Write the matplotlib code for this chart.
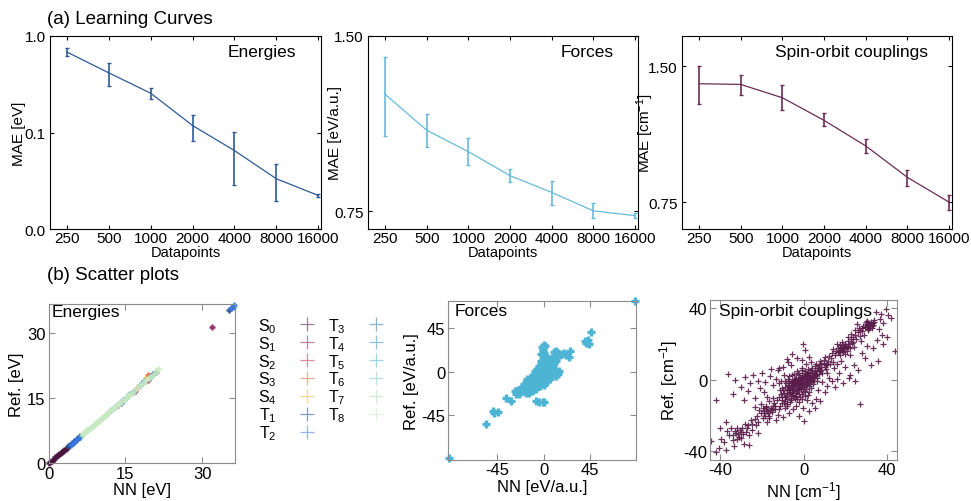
import numpy as np
import matplotlib.pyplot as plt
from matplotlib.lines import Line2D
from matplotlib.ticker import FormatStrFormatter, NullLocator

plt.rcParams['font.family'] = ['Liberation Sans', 'DejaVu Sans']
plt.rcParams['axes.unicode_minus'] = False
plt.rcParams['mathtext.fontset'] = 'custom'
plt.rcParams['mathtext.rm'] = 'Liberation Sans'
plt.rcParams['mathtext.it'] = 'Liberation Sans:italic'

# ---------------- learning curves ----------------
datapoints = [250, 500, 1000, 2000, 4000, 8000, 16000]
dp_labels = ['250', '500', '1000', '2000', '4000', '8000', '16000']

mae_energy = [0.68, 0.414, 0.255, 0.118, 0.065, 0.0332, 0.0223]
mae_energy_lo = [0.62, 0.306, 0.223, 0.081, 0.0283, 0.0195, 0.0217]
mae_energy_hi = [0.75, 0.52, 0.288, 0.153, 0.102, 0.0467, 0.0229]

mae_force = [1.191, 1.033, 0.949, 0.863, 0.808, 0.751, 0.737]
mae_force_lo = [1.01, 0.966, 0.901, 0.841, 0.769, 0.729, 0.729]
mae_force_hi = [1.383, 1.103, 1.000, 0.886, 0.846, 0.774, 0.744]

mae_soc = [1.372, 1.367, 1.277, 1.138, 0.999, 0.851, 0.750]
mae_soc_lo = [1.239, 1.292, 1.198, 1.104, 0.962, 0.816, 0.722]
mae_soc_hi = [1.50, 1.438, 1.361, 1.179, 1.035, 0.885, 0.776]

# ---------------- energies scatter (NN, Ref) per state ----------------
state_labels = ['S_0', 'S_1', 'S_2', 'S_3', 'S_4', 'T_1', 'T_2',
                'T_3', 'T_4', 'T_5', 'T_6', 'T_7', 'T_8']
state_colors = ['#4a1440', '#8e1f5a', '#d0284f', '#f2603c', '#f0b830', '#1f4e8c', '#3c78e8',
                '#2a73b0', '#3b8fcc', '#4bb3d3', '#7fcdbb', '#a8ddb5', '#ccebc5']

s0_pts = [(0.1, 0.1), (0.35, 0.35), (0.6, 0.6), (0.85, 0.85), (1.1, 1.1), (1.35, 1.35), (1.6, 1.6),
          (1.85, 1.85), (2.1, 2.1), (2.35, 2.35), (2.6, 2.6), (2.85, 2.85), (3.1, 3.1), (3.35, 3.35),
          (3.6, 3.6)]
s1_pts = [(16.8, 16.6), (19.5, 19.3), (32.0, 31.5)]
s2_pts = [(13.6, 13.4), (18.9, 19.0)]
s3_pts = [(19.5, 20.3), (17.2, 17.5)]
s4_pts = [(19.0, 19.8)]
t1_pts = [(3.8, 3.9), (4.1, 4.2), (4.4, 4.5), (4.7, 4.8), (5.0, 5.1), (5.3, 5.4), (5.6, 5.7),
          (5.9, 6.0), (6.2, 6.2), (20.4, 20.7), (21.0, 21.2), (35.3, 35.5), (36.0, 36.2)]
t2_pts = [(4.3, 4.3), (4.9, 5.0), (5.5, 5.6), (6.1, 6.1), (35.7, 35.8), (36.3, 36.5)]
t3_pts = [(14.2, 14.0), (16.5, 16.5), (18.2, 18.6)]
t4_pts = [(14.5, 14.6), (17.8, 18.2), (20.0, 20.2)]
t5_pts = [(13.0, 13.1), (15.2, 15.0), (18.6, 18.9)]
t6_pts = [(12.2, 12.4), (15.8, 16.0), (19.8, 20.0)]
t7_pts = [(6.6, 6.6), (7.1, 7.2), (7.6, 7.6), (8.1, 8.2), (8.6, 8.6), (9.2, 9.3), (9.8, 9.8),
          (10.4, 10.5), (11.0, 11.0), (11.6, 11.7), (12.8, 12.8), (13.8, 13.9)]
t8_pts = [(6.8, 6.8), (7.3, 7.4), (7.8, 7.8), (8.3, 8.4), (8.9, 8.9), (9.5, 9.6), (10.1, 10.1),
          (10.7, 10.8), (11.3, 11.3), (11.9, 12.0), (12.5, 12.5), (13.1, 13.2), (13.7, 13.7),
          (14.3, 14.4), (14.9, 14.9), (15.5, 15.6), (16.1, 16.1), (16.7, 16.8), (17.3, 17.3),
          (17.9, 18.0), (18.5, 18.5), (19.1, 19.2), (19.7, 19.7), (20.3, 20.4), (20.9, 21.0),
          (21.4, 21.8)]
energy_states = [s0_pts, s1_pts, s2_pts, s3_pts, s4_pts, t1_pts, t2_pts,
                 t3_pts, t4_pts, t5_pts, t6_pts, t7_pts, t8_pts]

# ---------------- forces scatter (NN, Ref) ----------------
force_pts = [
    (-20, -17), (-18, -19), (-17, -14), (-16, -17), (-15, -12), (-15, -20), (-14, -15), (-13, -10),
    (-13, -18), (-12, -13), (-11, -8), (-11, -16), (-10, -11), (-10, -19), (-9, -6), (-9, -14),
    (-8, -9), (-8, -17), (-7, -4), (-7, -12), (-6, -7), (-6, -15), (-5, -2), (-5, -10), (-4, -5),
    (-4, -13), (-3, 0), (-3, -8), (-2, -3), (-2, -11), (-1, 2), (-1, -6), (0, -1), (0, -9),
    (1, 4), (1, -4), (2, 1), (2, -7), (3, 6), (3, -2), (4, 3), (4, -5), (5, 8), (5, 0), (6, 5),
    (6, -3), (7, 10), (7, 2), (8, 7), (9, 12), (9, 4), (10, 9), (11, 14), (12, 11), (-6, 3),
    (-8, 1), (-10, -3), (-12, -5), (-4, 6), (-2, 8), (0, 10), (-1, 14), (-2, 18), (-1, 22),
    (-1.5, 26), (0, 28), (2, 16), (4, 13), (-17, -22), (-19, -13), (-21, -16), (-14, -22),
    (0, -14), (3, -10), (6, -8), (8, -2), (10, 2), (-16, -8), (-7, -18), (-3, -15), (1, -12),
    (-19, -15.5), (-17.5, -16), (-16, -13.5), (-14.5, -17.5), (-13.5, -12.5), (-12.5, -15.5),
    (-11.5, -10.5), (-10.5, -13.5), (-9.5, -8.5), (-8.5, -11.5), (-7.5, -6.5), (-6.5, -9.5),
    (-5.5, -4.5), (-4.5, -7.5), (-3.5, -2.5), (-2.5, -5.5), (-1.5, -0.5), (-0.5, -3.5), (0.5, 1.5),
    (1.5, -1.5), (2.5, 3.5), (3.5, 0.5), (4.5, 5.5), (5.5, 2.5), (6.5, 7.5), (7.5, 4.5), (8.5, 9.5),
    (9.5, 6.5), (10.5, 11.5), (-12, -8), (-10, -6), (-8, -4), (-6, -1), (-4, 1), (-2, 4), (0, 6),
    (2, 8), (4, 10), (6, 11), (-14, -19), (-12, -17), (-10, -15), (-8, -13), (-6, -11), (-4, -9),
    (-2, -7), (0, -5), (2, -3), (4, -1), (6, 1), (8, 3), (-5, -14), (-3, -12), (-1, -10), (1, -8),
    (3, -6), (5, -4), (7, -1), (9, 1), (-15, -9.5), (-17, -11), (-18, -17.5), (-20, -20),
    (-22, -18), (-9, -17), (-11, -20), (-3, 3), (-1, 5), (1, 12), (3, 14), (8, 14), (-2.5, 11),
    (0.5, 19), (-0.5, 24), (1.5, 27), (-24, -23), (-23, -21),
    (10, 20), (14, 19), (18, 18), (22, 17), (26, 21), (25, 15), (12, 22), (16, 17), (20, 19),
    (-28, -20), (-27, -23), (-36, -27), (-32, -30), (-25, -19),
    (-7, -30), (-4, -31), (-1, -31.5), (0.5, -31), (14, -2), (12, -4), (15, 1),
    (-49, -41), (-48, -43), (-44, -42), (-56, -54), (40, 32), (41, 30), (43, 33), (44, 29),
    (46, 41), (-92, -90), (89, 74)]

# ---------------- spin-orbit couplings scatter (NN, Ref) ----------------
soc_pts = [
    (-9.5, -7.2), (-8.8, -4.1), (-8.3, -9.0), (-7.9, -6.0), (-7.4, -2.8), (-7.0, -8.1), (-6.6, -4.7),
    (-6.2, -10.3), (-6.0, -1.5), (-5.7, -6.6), (-5.3, -3.4), (-5.0, -8.8), (-4.7, -0.4), (-4.4, -5.2),
    (-4.1, -2.1), (-3.8, -7.4), (-3.5, 1.2), (-3.2, -3.9), (-2.9, -0.8), (-2.6, -6.0), (-2.3, 2.5),
    (-2.0, -2.6), (-1.7, -9.5), (-1.5, 0.4), (-1.2, -4.5), (-0.9, 3.6), (-0.6, -1.3), (-0.3, -7.0),
    (0.0, 1.8), (0.3, -3.2), (0.6, 4.9), (0.9, 0.2), (1.2, -5.4), (1.5, 2.9), (1.8, -1.7), (2.1, 6.0),
    (2.4, 1.1), (2.7, -3.6), (3.0, 4.2), (3.4, -0.5), (3.8, 2.4), (4.2, 6.8), (4.6, 0.8), (5.0, 4.0),
    (5.5, 7.5), (6.0, 2.6), (6.5, 5.5), (7.2, 8.3), (7.8, 4.6), (8.5, 7.0), (-10.5, -4.5), (-11.0, -8.0),
    (-9.0, -11.8), (-4.0, -11.0), (-2.0, -12.5), (0.5, -9.0), (2.5, -6.8), (4.5, -2.5), (6.5, -0.8),
    (-1.0, 6.5), (1.0, 8.5), (-3.0, 5.0), (-5.5, 2.5), (-7.5, 0.5), (9.5, 9.5), (10.5, 8.0),
    (-6.5, -12.5), (-3.5, -14.5), (3.5, 9.8), (-12.0, -2.0), (-0.5, -16.0), (1.5, -11.5),
    (-8.0, -7.5), (-7.2, -5.0), (-6.5, -7.0), (-5.8, -4.2), (-5.0, -5.8), (-4.4, -3.0), (-3.6, -5.0),
    (-3.0, -1.9), (-2.2, -4.0), (-1.5, -1.8), (-0.8, -3.3), (0.0, -0.8), (0.8, -2.0), (1.5, 0.9),
    (2.3, -0.2), (3.0, 1.5), (3.8, 0.0), (0.5, 2.8), (-1.0, 1.0), (-2.5, 0.0), (-4.0, -1.0),
    (-5.5, -2.0), (-6.8, -3.5), (-8.0, -5.5), (5.5, 2.0), (4.0, 3.5), (2.0, 3.5), (-9.0, -9.5),
    (-6.0, -9.0), (-3.5, -9.0),
    (-9.8, -5.8), (-8.5, -2.0), (-7.8, -10.5), (-7.0, -1.0), (-6.3, -6.0), (-5.6, -0.5), (-5.2, -7.5),
    (-4.8, -2.6), (-4.2, -9.8), (-3.9, 0.3), (-3.3, -6.5), (-2.8, -3.0), (-2.4, -8.2), (-1.9, 1.5),
    (-1.4, -5.2), (-1.1, -2.2), (-0.7, -11.0), (-0.2, 0.7), (0.2, -4.2), (0.7, -6.5), (1.1, 1.9),
    (1.6, -3.0), (2.0, -8.5), (2.6, 2.3), (2.9, -1.3), (3.3, 5.2), (3.6, -4.4), (4.3, 1.4), (4.8, -0.8),
    (5.3, 5.1), (5.8, 3.3), (6.3, 1.0), (6.8, 6.5), (7.4, 3.0), (8.1, 5.5), (-4.6, 3.2), (-2.7, 4.0),
    (-0.6, 5.3), (1.3, 4.0), (-6.8, 1.8), (-8.9, -0.5), (-10.2, -9.5), (-11.5, -6.0), (-5.9, -11.3),
    (-3.1, -10.5), (-1.0, -8.0), (0.9, -2.6), (-1.8, -0.3), (-3.6, -1.2), (-5.2, -3.2),
    (-8.0, 11.5), (-7.6, 9.7), (-0.3, 19.9), (0.5, 16.5), (-3.0, 12.0), (-5.5, 14.5), (-1.0, 11.0),
    (2.5, 12.5), (-10.0, 7.0), (-12.5, 5.5), (-6.0, 8.0),
    (9.0, 3.5), (10.5, 6.0), (11.5, 10.5), (12.5, 8.5), (13.0, 12.0), (14.0, 10.0), (8.0, 10.5),
    (10.0, 12.5), (15.0, 13.5), (11.0, 4.0), (12.0, 1.0), (14.5, 6.5), (16.0, 9.0),
    (8.5, 8.8), (9.8, 10.8), (11.0, 9.0), (12.2, 13.2), (13.5, 14.8), (7.5, 6.8), (10.0, 7.0), (6.0, 9.0),
    (15.5, 16.0), (16.5, 17.5), (17.0, 15.2), (17.8, 18.5), (18.3, 16.4), (18.9, 19.6), (19.5, 17.2),
    (20.2, 18.8), (20.8, 16.0), (21.5, 19.8), (22.3, 17.6), (23.0, 20.5), (17.5, 13.5), (19.8, 14.5),
    (16.0, 19.8), (21.0, 21.5), (24.0, 18.0), (14.0, 17.0), (22.0, 14.0), (18.5, 21.0),
    (16.2, 15.3), (17.3, 16.8), (18.0, 17.6), (19.0, 16.2), (19.7, 18.6), (20.5, 17.5), (21.2, 18.2),
    (18.8, 15.2), (17.6, 19.3), (20.0, 20.0),
    (23.5, 24.0), (25.0, 22.5), (26.0, 26.5), (27.0, 24.5), (24.5, 27.5), (28.0, 27.0), (26.5, 29.0),
    (22.5, 25.5), (29.0, 25.0), (27.5, 21.5), (21.0, 24.0), (25.5, 31.0), (22.5, 22.5), (24.8, 25.0),
    (26.8, 27.5), (27.8, 28.8), (23.8, 21.0),
    (29.3, 29.2), (30.0, 30.8), (30.7, 28.5), (31.2, 31.5), (31.8, 29.8), (32.4, 32.0), (33.0, 30.5),
    (33.3, 31.8), (32.7, 29.0), (31.0, 27.5), (29.8, 32.0), (28.5, 30.0), (33.5, 33.5), (30.5, 33.0),
    (30.2, 29.6), (31.5, 30.3), (32.1, 31.1), (32.9, 30.1), (31.3, 28.8), (30.6, 31.6), (33.7, 32.4),
    (39.2, 39.4), (37.0, 36.5), (36.5, 34.0), (40.5, 36.0), (34.5, 37.5), (38.0, 31.5), (42.0, 34.5),
    (36.0, 28.0), (35.7, 10.6), (43.7, 16.2), (38.0, 20.0), (40.0, 24.0), (35.0, 22.0), (33.0, 17.5),
    (30.5, 19.0), (28.0, 15.0), (27.0, -13.6), (26.0, 5.5), (24.0, 8.0), (22.0, 2.5), (20.0, 7.0),
    (18.0, 10.5), (29.5, 12.0), (32.0, 8.0), (37.5, 25.0),
    (13.5, -1.0), (16.0, 0.5), (19.0, -2.0), (21.5, 1.0), (24.5, -0.5), (15.0, -4.0), (11.0, -3.5),
    (9.0, -1.5), (17.0, 3.5), (10.0, -7.0), (7.0, -5.5), (6.0, -10.5), (4.0, -13.0), (0.2, -22.9),
    (-2.0, -20.0), (2.5, -17.5), (5.5, -15.5), (8.0, -12.0),
    (-36.3, 3.2), (-32.8, 0.0), (-28.0, 1.5), (-25.5, -2.0), (-24.0, 2.5), (-22.0, -0.5), (-20.0, 4.0),
    (-18.5, -1.5), (-16.0, 2.0), (-14.5, -3.0), (-13.0, 0.5), (-12.0, 6.5), (-15.5, 6.0), (-21.0, -4.5),
    (-26.5, -6.5), (-30.0, -4.0), (-41.9, -11.3), (-34.0, -8.0), (-19.0, -7.0), (-11.0, -1.0),
    (-9.5, 2.5), (-17.5, -9.5), (-23.5, -10.0), (-28.5, -11.5),
    (-10.5, -12.8), (-12.8, -11.2), (-13.8, -14.8), (-11.8, -16.2), (-9.2, -13.2), (-8.2, -14.8),
    (-20.3, -13.6), (-19.5, -16.0), (-18.8, -18.5), (-18.0, -14.5), (-17.3, -17.3), (-16.5, -20.0),
    (-15.8, -15.5), (-15.0, -18.0), (-14.2, -13.0), (-13.5, -16.5), (-21.5, -17.0), (-22.5, -20.0),
    (-12.5, -19.5), (-19.5, -21.5), (-16.5, -12.0), (-11.5, -14.5), (-13.0, -22.5), (-23.5, -15.0),
    (-17.5, -23.5), (-10.5, -11.5), (-12.0, -9.5), (-14.5, -10.0), (-9.0, -16.0), (-8.0, -13.5),
    (-7.0, -18.5), (-10.0, -21.0), (-5.0, -16.5), (-25.0, -22.5),
    (-19.0, -17.5), (-18.2, -16.3), (-17.0, -18.8), (-16.2, -16.8), (-15.3, -17.0), (-17.8, -15.0),
    (-20.5, -18.8), (-14.8, -14.5), (-16.8, -21.5), (-18.5, -20.0),
    (-24.5, -24.5), (-26.5, -25.5), (-27.8, -29.0), (-23.2, -22.0), (-21.8, -23.5),
    (-34.7, -26.8), (-33.0, -28.5), (-31.5, -30.0), (-30.5, -28.0), (-30.0, -32.5), (-32.0, -33.0),
    (-29.0, -30.5), (-28.3, -35.7), (-35.5, -31.0), (-27.0, -27.0), (-26.0, -31.0), (-36.5, -28.5),
    (-28.0, -24.5), (-24.5, -28.0), (-38.0, -35.0), (-40.3, -38.1), (-37.1, -39.0), (-44.3, -34.0),
    (-42.0, -40.5), (-39.5, -33.0), (-33.5, -37.0), (-26.0, -36.5), (-23.0, -25.5), (-22.0, -29.5),
    (-37.0, -23.5), (-40.0, -27.0),
    (-32.5, -29.5), (-31.0, -31.8), (-30.2, -29.3), (-33.8, -30.8), (-29.5, -27.0), (-34.0, -33.8),
    (-31.8, -27.2)]

W, H = 971, 502
fig = plt.figure(figsize=(W / 100, H / 100), dpi=100)


def rect(x0, y0, x1, y1):
    # pixel box -> figure fraction
    return [x0 / W, 1 - y1 / H, (x1 - x0) / W, (y1 - y0) / H]


def learning_curve(box, vals, lo, hi, color, ylab, label, ylim, yticks, fmt, labx):
    ax = fig.add_axes(rect(*box))
    vals = np.array(vals)
    err = [vals - np.array(lo), np.array(hi) - vals]
    ax.errorbar(datapoints, vals, yerr=err, color=color, lw=0.9, elinewidth=1.2, capsize=1.5)
    ax.set_xscale('log', base=2)
    ax.set_yscale('log')
    ax.set_xlim(188, 16800)
    ax.set_ylim(*ylim)
    ax.set_xticks(datapoints)
    ax.set_xticklabels(dp_labels)
    ax.xaxis.set_minor_locator(NullLocator())
    ax.set_yticks(yticks)
    ax.yaxis.set_major_formatter(FormatStrFormatter(fmt))
    ax.yaxis.set_minor_locator(NullLocator())
    ax.tick_params(direction='in', top=True, right=True, labelsize=11, length=3, pad=3)
    ax.tick_params(axis='x', pad=1.5)
    ax.set_xlabel('Datapoints', fontsize=10.5, labelpad=0)
    ax.set_ylabel(ylab, fontsize=11)
    ax.yaxis.set_label_coords(labx, 0.5)
    ax.text(0.91, 0.92, label, transform=ax.transAxes, ha='right', va='center', fontsize=12.5)
    return ax


learning_curve((50, 37, 321, 230), mae_energy, mae_energy_lo, mae_energy_hi, '#2f5b98',
               'MAE [eV]', 'Energies', (0.01, 1.0), [0.01, 0.1, 1.0], '%.1f', -0.088)
learning_curve((368, 37, 638, 230), mae_force, mae_force_lo, mae_force_hi, '#68bad8',
               'MAE [eV/a.u.]', 'Forces', (0.699, 1.5), [0.75, 1.5], '%.2f', -0.098)
learning_curve((682, 37, 952, 230), mae_soc, mae_soc_lo, mae_soc_hi, '#6b2d55',
               'MAE [cm$^{-1}$]', 'Spin-orbit couplings', (0.654, 1.75), [0.75, 1.5], '%.2f', -0.098)

fig.text(47 / W, 1 - 20 / H, '(a) Learning Curves', fontsize=13.5, va='center')
fig.text(47 / W, 1 - 276 / H, '(b) Scatter plots', fontsize=13.5, va='center')


def scatter_axes(box, lims, ticks, xlab, ylab, label, lx, ly):
    ax = fig.add_axes(rect(*box))
    ax.set_xlim(*lims[0])
    ax.set_ylim(*lims[1])
    ax.set_xticks(ticks)
    ax.set_yticks(ticks)
    for s in ax.spines.values():
        s.set_color('#8c8c8c')
    ax.tick_params(direction='in', top=True, right=True, labelsize=12, length=4,
                   color='#8c8c8c', pad=2)
    ax.set_xlabel(xlab, fontsize=12, labelpad=1)
    ax.set_ylabel(ylab, fontsize=12, labelpad=2)
    ax.text(lx, ly, label, transform=ax.transAxes, ha='left', va='center', fontsize=12.5)
    return ax


# energies
ax_e = scatter_axes((48.5, 305, 235, 464.3), [(0, 36.4), (0, 36.8)], [0, 15, 30],
                    'NN [eV]', 'Ref. [eV]', 'Energies', 0.018, 0.955)
handles = []
for pts, c, lab in zip(energy_states, state_colors, state_labels):
    nn, ref = np.array(pts).T
    ax_e.plot(nn, ref, ls='none', marker='+', ms=5, mew=1.8, color=c, alpha=0.9, clip_on=False)
    handles.append(Line2D([], [], ls='none', marker='+', ms=10, mew=0.9, color=c, alpha=0.55,
                          label=r'$\mathregular{%s}$' % lab))

fig.legend(handles=handles, loc='upper left', bbox_to_anchor=(258 / W, 1 - 317 / H), ncol=2,
           frameon=False, markerfirst=False, fontsize=11.5, borderpad=0, borderaxespad=0,
           handlelength=1.0, handletextpad=1.4, columnspacing=0.8, labelspacing=-0.05)

# forces
ax_f = scatter_axes((448.3, 302, 635.7, 460.7), [(-92.5, 89.5), (-91.5, 73.5)], [-45, 0, 45],
                    'NN [eV/a.u.]', 'Ref. [eV/a.u.]', 'Forces', 0.036, 0.94)
fnn, fref = np.array(force_pts).T
ax_f.plot(fnn, fref, ls='none', marker='+', ms=6, mew=2.4, color='#4db4d4', clip_on=False)

# spin-orbit couplings
ax_s = scatter_axes((710, 300.7, 897.3, 460.7), [(-44.8, 44.8), (-44.6, 44.6)], [-40, 0, 40],
                    'NN [cm$^{-1}$]', 'Ref. [cm$^{-1}$]', 'Spin-orbit couplings', 0.05, 0.93)
snn, sref = np.array(soc_pts).T
ax_s.plot(snn, sref, ls='none', marker='+', ms=3.8, mew=0.9, color='#5a1c4a', alpha=0.9)

fig.savefig('out.png', dpi=100)
